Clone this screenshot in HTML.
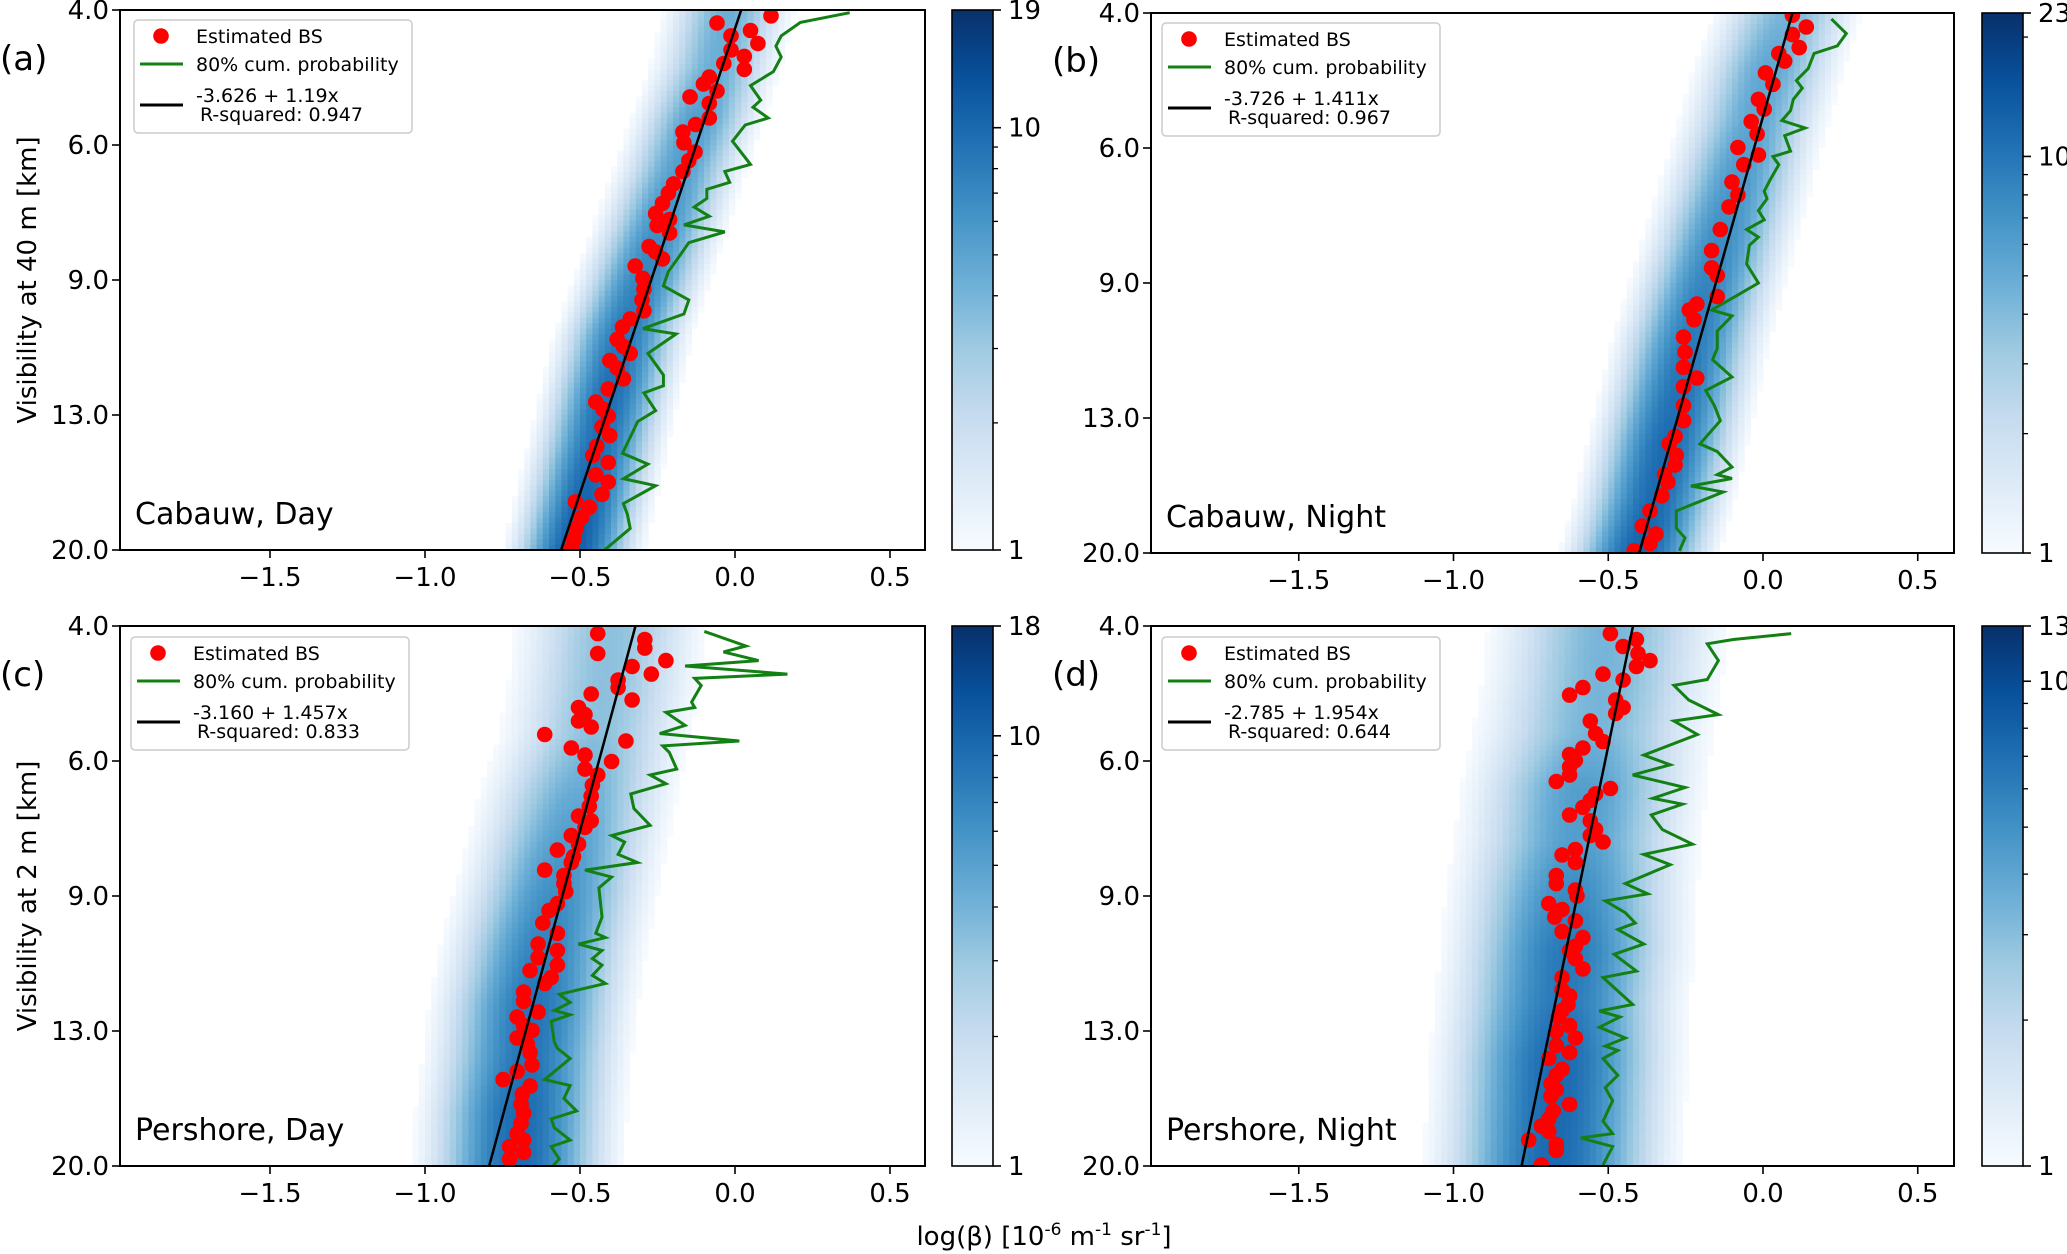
<!DOCTYPE html>
<html><head><meta charset="utf-8"><style>
body{margin:0;background:#fff}
svg{display:block;font-family:"DejaVu Sans","Liberation Sans",sans-serif}
</style></head><body>
<svg id="fig" width="2067" height="1254" viewBox="0 0 2067 1254" xmlns="http://www.w3.org/2000/svg"></svg>
<script>
// ---------- data ----------
const xTickValues=[-1.5,-1.0,-0.5,0.0,0.5];
const xTickLabels=["\u22121.5","\u22121.0","\u22120.5","0.0","0.5"];
const yTickBins=[0,25,50,75,100];
const yTickLabels=["4.0","6.0","9.0","13.0","20.0"];
const panelIds=["a","b","c","d"];
const panelSites=["Cabauw, Day","Cabauw, Night","Pershore, Day","Pershore, Night"];
const fitEquations=["-3.626 + 1.19x","-3.726 + 1.411x","-3.160 + 1.457x","-2.785 + 1.954x"];
const fitRsq=["R-squared: 0.947","R-squared: 0.967","R-squared: 0.833","R-squared: 0.644"];
const fitTopX=[0.02,0.095,-0.321,-0.42];
const fitBottomX=[-0.561,-0.40,-0.793,-0.78];
const cbarMax=[19,23,18,13];
// heatmap row profiles at bins 0,10,...,100
const profileBins=[0,10,20,30,40,50,60,70,80,90,100];
const heatCenterA=[-0.02,-0.06,-0.12,-0.18,-0.24,-0.30,-0.36,-0.40,-0.44,-0.48,-0.52];
const heatPeakA=[3,3,4,4,5,6,7,8,8,9,10];
const heatCenterB=[0.08,0.02,-0.03,-0.08,-0.13,-0.18,-0.23,-0.27,-0.31,-0.35,-0.40];
const heatPeakB=[3,4,4,5,6,7,8,9,10,10,11];
const heatCenterC=[-0.40,-0.42,-0.45,-0.50,-0.54,-0.58,-0.62,-0.65,-0.67,-0.69,-0.70];
const heatPeakC=[2,2,2,3,4,5,6,7,7,8,8];
const heatCenterD=[-0.50,-0.52,-0.55,-0.58,-0.60,-0.62,-0.63,-0.65,-0.66,-0.67,-0.68];
const heatPeakD=[2,2,2,3,3,4,5,5,6,6,6];
const heatSigma=[0.08,0.09,0.12,0.15];
// estimated BS dots: x values and bin positions
const dotsAx=[-0.058,0.116,-0.013,0.050,0.074,-0.013,0.030,-0.036,0.030,-0.083,-0.102,-0.058,-0.145,-0.083,-0.083,-0.127,-0.168,-0.165,-0.129,-0.149,-0.168,-0.198,-0.215,-0.234,-0.256,-0.251,-0.211,-0.211,-0.277,-0.256,-0.234,-0.322,-0.297,-0.294,-0.300,-0.294,-0.338,-0.363,-0.380,-0.360,-0.338,-0.404,-0.380,-0.360,-0.409,-0.449,-0.426,-0.409,-0.429,-0.404,-0.446,-0.459,-0.409,-0.449,-0.409,-0.429,-0.515,-0.470,-0.495,-0.512,-0.520,-0.528];
const dotsAy=[2.4,1.1,4.8,3.8,6.2,7.4,8.6,9.9,11.0,12.4,13.7,15.0,16.1,17.3,20.0,21.2,22.6,24.6,26.3,27.9,29.9,32.2,33.9,35.8,37.7,39.9,38.8,41.3,43.8,44.8,46.1,47.4,49.7,51.7,53.7,55.7,57.2,58.7,61.0,62.3,63.6,64.9,66.3,68.3,70.2,72.6,73.9,75.2,77.2,78.8,80.8,82.5,83.8,86.1,87.4,89.7,91.1,92.1,94.0,96.0,98.0,99.7];
const dotsBx=[0.095,0.140,0.095,0.117,0.051,0.070,0.008,0.032,-0.015,0.004,-0.038,-0.019,-0.081,-0.015,-0.062,-0.100,-0.081,-0.110,-0.138,-0.166,-0.166,-0.148,-0.148,-0.214,-0.238,-0.223,-0.257,-0.252,-0.257,-0.214,-0.257,-0.257,-0.257,-0.284,-0.303,-0.280,-0.284,-0.318,-0.308,-0.327,-0.365,-0.390,-0.346,-0.365,-0.416];
const dotsBy=[0.4,2.6,4.0,6.4,7.5,8.9,11.1,13.2,16.0,17.8,20.1,22.4,24.9,26.3,28.1,31.3,33.7,35.9,40.1,44.0,47.2,48.6,52.5,53.9,55.0,56.8,60.0,62.8,65.6,67.6,69.2,72.7,75.5,78.4,79.8,81.9,83.7,85.5,86.9,89.4,92.2,95.0,96.5,98.2,99.6];
const dotsCx=[-0.443,-0.291,-0.291,-0.443,-0.223,-0.332,-0.270,-0.377,-0.377,-0.464,-0.332,-0.505,-0.484,-0.505,-0.464,-0.614,-0.352,-0.528,-0.484,-0.398,-0.484,-0.443,-0.460,-0.464,-0.470,-0.505,-0.464,-0.484,-0.528,-0.505,-0.573,-0.521,-0.528,-0.614,-0.552,-0.552,-0.546,-0.573,-0.600,-0.620,-0.573,-0.635,-0.573,-0.635,-0.573,-0.661,-0.593,-0.614,-0.682,-0.682,-0.635,-0.703,-0.682,-0.655,-0.703,-0.670,-0.661,-0.655,-0.703,-0.748,-0.661,-0.686,-0.690,-0.682,-0.690,-0.703,-0.682,-0.727,-0.682,-0.727];
const dotsCy=[1.4,2.5,4.1,5.1,6.4,7.5,8.9,10.0,11.4,12.6,13.7,15.1,16.4,17.6,18.7,20.1,21.3,22.6,23.9,25.1,26.5,27.6,29.5,31.5,33.4,35.2,36.1,37.3,38.8,40.4,41.5,42.7,43.8,45.2,46.2,47.7,49.2,51.4,52.7,55.0,56.9,58.9,60.1,61.4,62.8,63.8,65.1,66.2,67.8,69.5,71.5,72.4,74.0,74.9,76.3,77.4,79.0,81.3,82.5,84.0,85.2,86.7,88.6,90.2,92.1,94.0,95.2,96.4,97.5,98.7];
const dotsDx=[-0.493,-0.409,-0.452,-0.404,-0.365,-0.409,-0.517,-0.452,-0.582,-0.625,-0.476,-0.452,-0.476,-0.558,-0.541,-0.517,-0.582,-0.625,-0.606,-0.625,-0.625,-0.668,-0.493,-0.541,-0.558,-0.582,-0.625,-0.558,-0.541,-0.558,-0.517,-0.606,-0.649,-0.606,-0.668,-0.668,-0.606,-0.601,-0.692,-0.649,-0.673,-0.606,-0.649,-0.582,-0.606,-0.625,-0.606,-0.582,-0.649,-0.649,-0.625,-0.630,-0.649,-0.661,-0.625,-0.668,-0.606,-0.668,-0.625,-0.692,-0.649,-0.668,-0.685,-0.668,-0.685,-0.625,-0.678,-0.692,-0.716,-0.692,-0.757,-0.668,-0.668,-0.716];
const dotsDy=[1.4,2.5,3.8,5.1,6.4,7.5,8.9,10.0,11.4,12.8,13.7,15.1,16.2,17.6,19.9,21.4,22.6,23.8,24.9,26.1,27.6,28.8,30.1,31.1,32.3,33.6,35.0,36.1,37.7,38.8,40.0,41.4,42.4,43.8,46.2,47.7,48.9,50.0,51.4,52.5,53.9,54.6,56.6,57.7,59.3,60.1,61.6,63.5,65.1,67.4,68.5,70.1,71.2,72.4,74.0,75.1,76.3,77.7,79.0,80.1,82.1,83.2,84.8,85.9,87.1,88.6,89.8,91.3,92.6,93.6,95.2,96.0,97.1,99.8];
// 80% cumulative probability lines
const greenAx=[0.37,0.211,0.149,0.132,0.149,0.124,0.050,0.083,0.058,0.107,0.033,-0.008,0.050,-0.033,-0.017,-0.091,-0.091,-0.132,-0.083,-0.165,-0.033,-0.149,-0.182,-0.215,-0.231,-0.149,-0.165,-0.297,-0.190,-0.281,-0.231,-0.231,-0.294,-0.256,-0.314,-0.363,-0.281,-0.360,-0.256,-0.360,-0.347,-0.338,-0.421];
const greenAy=[0.5,2.3,4.8,6.7,8.7,11.4,14.0,16.7,18.0,20.0,21.3,24.3,28.6,29.9,31.9,33.2,34.9,36.5,38.2,39.8,41.1,43.1,45.8,48.4,51.1,53.7,56.3,59.0,60.0,63.6,67.6,69.6,70.9,74.2,76.2,82.1,84.1,86.8,88.1,91.4,93.4,96.0,100];
const greenBx=[0.221,0.269,0.240,0.165,0.146,0.108,0.127,0.098,0.089,0.061,0.136,0.070,0.089,0.032,0.051,0.023,0.004,0.013,-0.015,0.004,-0.053,-0.015,-0.044,-0.053,-0.015,-0.081,-0.166,-0.100,-0.148,-0.148,-0.163,-0.100,-0.185,-0.157,-0.138,-0.204,-0.148,-0.100,-0.148,-0.100,-0.233,-0.129,-0.280,-0.280,-0.252,-0.270];
const greenBy=[1.1,3.8,6.1,7.5,10.3,12.5,13.9,16.0,18.1,19.9,21.3,22.7,25.6,26.6,28.1,30.9,33.0,34.4,36.6,38.3,40.1,41.5,43.0,46.5,50.0,52.2,55.0,56.1,58.9,62.1,64.2,67.4,69.9,72.7,75.5,79.8,81.2,84.1,85.5,86.2,87.6,88.7,92.2,95.4,97.2,99.6];
const greenCx=[-0.099,0.035,-0.037,0.076,-0.161,0.169,-0.130,-0.109,-0.140,-0.130,-0.223,-0.161,-0.243,0.014,-0.233,-0.212,-0.188,-0.274,-0.223,-0.336,-0.326,-0.274,-0.398,-0.356,-0.377,-0.315,-0.484,-0.398,-0.439,-0.429,-0.449,-0.418,-0.505,-0.429,-0.460,-0.429,-0.460,-0.418,-0.567,-0.532,-0.583,-0.532,-0.593,-0.583,-0.573,-0.532,-0.614,-0.532,-0.552,-0.511,-0.593,-0.583,-0.532,-0.593,-0.567,-0.587];
const greenCy=[1.0,3.7,4.8,6.4,7.4,8.9,9.7,11.0,14.1,15.1,16.0,18.4,19.9,21.3,22.2,23.4,26.5,27.6,29.2,31.1,33.8,36.9,38.8,40.0,42.3,43.8,45.2,46.5,48.5,53.9,56.9,57.7,58.9,60.1,61.6,62.8,64.7,66.2,68.2,69.7,71.2,72.0,73.2,77.0,78.2,80.1,84.0,85.1,87.5,89.8,91.3,92.9,95.2,96.4,98.7,100];
const greenDx=[0.091,-0.096,-0.180,-0.144,-0.180,-0.288,-0.240,-0.144,-0.288,-0.212,-0.385,-0.300,-0.421,-0.252,-0.356,-0.260,-0.361,-0.325,-0.228,-0.385,-0.300,-0.445,-0.373,-0.510,-0.445,-0.413,-0.469,-0.385,-0.481,-0.409,-0.517,-0.421,-0.529,-0.462,-0.529,-0.445,-0.510,-0.469,-0.517,-0.469,-0.510,-0.486,-0.517,-0.486,-0.589,-0.486,-0.517];
const greenDy=[1.4,2.5,3.3,6.4,9.9,11.0,13.7,16.4,17.6,20.1,23.9,25.7,27.6,29.9,31.9,33.0,35.0,37.7,40.4,42.3,44.2,47.7,49.6,50.9,53.1,55.0,56.2,58.9,60.8,63.9,65.1,70.1,71.3,72.4,74.3,76.3,77.8,78.6,80.1,83.2,85.5,87.9,91.7,94.0,94.8,96.4,99.8];

const heatCenters=[heatCenterA,heatCenterB,heatCenterC,heatCenterD];
const heatPeaks=[heatPeakA,heatPeakB,heatPeakC,heatPeakD];
const dotsX=[dotsAx,dotsBx,dotsCx,dotsDx];
const dotsY=[dotsAy,dotsBy,dotsCy,dotsDy];
const greenX=[greenAx,greenBx,greenCx,greenDx];
const greenY=[greenAy,greenBy,greenCy,greenDy];

// ---------- layout ----------
const layouts=[
 {L:120,R:925,T:10,B:550,x0:735,ux:310,cb:952,lg:[134,20],lab:[0,58]},
 {L:1151,R:1954,T:13,B:553,x0:1763,ux:309.5,cb:1982,lg:[1162,23],lab:[1052,60]},
 {L:120,R:925,T:626,B:1166,x0:735,ux:310,cb:952,lg:[131,637],lab:[0,674]},
 {L:1151,R:1954,T:626,B:1166,x0:1763,ux:309.5,cb:1982,lg:[1162,637],lab:[1052,674]}
];
const NS="http://www.w3.org/2000/svg";
const svg=document.getElementById('fig');
function mk(tag,attrs,parent){const e=document.createElementNS(NS,tag);for(const k in attrs)e.setAttribute(k,attrs[k]);(parent||svg).appendChild(e);return e;}
const blues=["#f7fbff","#deebf7","#c6dbef","#9ecae1","#6baed6","#4292c6","#2171b5","#08519c","#08306b"];
function hex(h){return [1,3,5].map(i=>parseInt(h.substr(i,2),16));}
function cmap(t){t=Math.max(0,Math.min(1,t));const p=t*8,i=Math.min(7,Math.floor(p)),f=p-i;const a=hex(blues[i]),b=hex(blues[i+1]);return "rgb("+a.map((v,k)=>Math.round(v+(b[k]-v)*f)).join(",")+")";}
function profile(arr,bin){const k=Math.min(9,Math.floor(bin/10));const f=(bin-profileBins[k])/10;return arr[k]+(arr[k+1]-arr[k])*f;}

const defs=mk('defs',{});
for(let p=0;p<4;p++){
  const lay=layouts[p];
  const sx=v=>lay.x0+v*lay.ux;
  const rowH=(lay.B-lay.T)/100;
  const sy=b=>lay.T+b*rowH;
  const g=mk('g',{});
  
  
  const clip=mk('clipPath',{id:'clip'+p},defs);
  mk('rect',{x:lay.L,y:lay.T,width:lay.R-lay.L,height:lay.B-lay.T},clip);
  const hm=mk('g',{'clip-path':'url(#clip'+p+')'},g);
  
  
  const lv=Math.log(cbarMax[p]);
  for(let r=0;r<100;r++){
    const c=profile(heatCenters[p],r+0.5),pk=profile(heatPeaks[p],r+0.5),s=heatSigma[p];
    for(let xi=0;xi<130;xi++){
      const xv=-2.0+xi*0.02+0.01,d=xv-c;
      let cnt=pk*Math.exp(-0.5*(d/s)*(d/s))+1.35*Math.exp(-0.5*(d/(s*3))*(d/(s*3)));
      if(cnt<1)continue;
      cnt=Math.min(cnt,cbarMax[p]);
      const cell=mk('rect',{x:sx(xv-0.01).toFixed(1),y:sy(r).toFixed(1),width:(0.02*lay.ux+0.4).toFixed(1),height:(rowH+0.4).toFixed(1),fill:cmap(Math.log(cnt)/lv)},hm);
      
      
    }
  }
  const gp=greenX[p].map((v,i)=>sx(v).toFixed(1)+","+sy(greenY[p][i]).toFixed(1)).join(" ");
  const gl=mk('polyline',{points:gp,fill:'none',stroke:'#138013','stroke-width':3,'clip-path':'url(#clip'+p+')'},g);
  
  
  const dg=mk('g',{'clip-path':'url(#clip'+p+')'},g);
  dotsX[p].forEach((v,i)=>{
    const d=mk('circle',{cx:sx(v).toFixed(1),cy:sy(dotsY[p][i]).toFixed(1),r:7.8,fill:'#ff0000'},dg);
    
    
  });
  const fl=mk('line',{x1:sx(fitTopX[p]),y1:sy(0),x2:sx(fitBottomX[p]),y2:sy(100),stroke:'#000','stroke-width':2.5,'clip-path':'url(#clip'+p+')'},g);
  
  
  const fr=mk('rect',{x:lay.L,y:lay.T,width:lay.R-lay.L,height:lay.B-lay.T,fill:'none',stroke:'#000','stroke-width':2},g);
  
  
  xTickValues.forEach((v,i)=>{
    const X=sx(v);
    mk('line',{x1:X,y1:lay.B,x2:X,y2:lay.B+8,stroke:'#000','stroke-width':1.6},g);
    const t=mk('text',{x:X,y:lay.B+36,'font-size':26,'text-anchor':'middle',fill:'#000'},g);
    t.textContent=xTickLabels[i];
    
    
  });
  yTickBins.forEach((b,i)=>{
    const Y=sy(b);
    mk('line',{x1:lay.L-8,y1:Y,x2:lay.L,y2:Y,stroke:'#000','stroke-width':1.6},g);
    const t=mk('text',{x:lay.L-11,y:Y+9,'font-size':26,'text-anchor':'end',fill:'#000'},g);
    t.textContent=yTickLabels[i];
    
    
  });
  const gid='cbg'+p;
  const lgr=mk('linearGradient',{id:gid,x1:0,y1:1,x2:0,y2:0},defs);
  blues.forEach((c,i)=>mk('stop',{offset:i/8,'stop-color':c},lgr));
  const cb=mk('rect',{x:lay.cb,y:lay.T,width:41,height:lay.B-lay.T,fill:'url(#'+gid+')',stroke:'#000','stroke-width':1.6},g);
  
  
  const cy=v=>lay.B-(Math.log(v)/lv)*(lay.B-lay.T);
  const major=[1,10,cbarMax[p]];
  for(let v=2;v<cbarMax[p];v++){
    if(v===10)continue;
    if(v>10&&v%10!==0)continue;
    mk('line',{x1:lay.cb+41,y1:cy(v),x2:lay.cb+46,y2:cy(v),stroke:'#000','stroke-width':1.3},g);
  }
  major.forEach(v=>{
    mk('line',{x1:lay.cb+41,y1:cy(v),x2:lay.cb+49,y2:cy(v),stroke:'#000','stroke-width':1.6},g);
    const t=mk('text',{x:lay.cb+56,y:cy(v)+9,'font-size':26,fill:'#000'},g);
    t.textContent=String(v);
    
    
  });
  const [lx,ly]=lay.lg;
  const lgG=mk('g',{},g);
  
  
  mk('rect',{x:lx,y:ly,width:278,height:113,rx:4,fill:'#fff','fill-opacity':0.85,stroke:'#ccc','stroke-width':1.5},lgG);
  mk('circle',{cx:lx+27,cy:ly+16,r:7.8,fill:'#ff0000'},lgG);
  mk('line',{x1:lx+6,y1:ly+44,x2:lx+49,y2:ly+44,stroke:'#138013','stroke-width':3},lgG);
  mk('line',{x1:lx+6,y1:ly+85,x2:lx+49,y2:ly+85,stroke:'#000','stroke-width':3},lgG);
  [["Estimated BS",16],["80% cum. probability",44],[fitEquations[p],75],[" "+fitRsq[p],94]].forEach(([s,dy],i)=>{
    const t=mk('text',{x:lx+(i===3?66:62),y:ly+dy+7,'font-size':19,fill:'#000'},lgG);
    t.textContent=s;
    
    
  });
  const st=mk('text',{x:lay.L+15,y:lay.B-26,'font-size':30,fill:'#000'},g);
  st.textContent=panelSites[p];
  
  
  const pl=mk('text',{x:lay.lab[0],y:lay.lab[1]+12,'font-size':34,fill:'#000'},g);
  pl.textContent='('+panelIds[p]+')';
  
  
}
const yt1=mk('text',{x:0,y:0,'font-size':26,'text-anchor':'middle',transform:'translate(36,280) rotate(-90)',fill:'#000'});
yt1.textContent='Visibility at 40 m [km]';


const yt2=mk('text',{x:0,y:0,'font-size':26,'text-anchor':'middle',transform:'translate(36,896) rotate(-90)',fill:'#000'});
yt2.textContent='Visibility at 2 m [km]';


const xt=mk('text',{x:1044,y:1245,'font-size':26,'text-anchor':'middle',fill:'#000'});


xt.innerHTML='log(\u03b2) [10<tspan dy="-10" font-size="17">-6</tspan><tspan dy="10"> m</tspan><tspan dy="-10" font-size="17">-1</tspan><tspan dy="10"> sr</tspan><tspan dy="-10" font-size="17">-1</tspan><tspan dy="10">]</tspan>';
</script>
</body></html>
